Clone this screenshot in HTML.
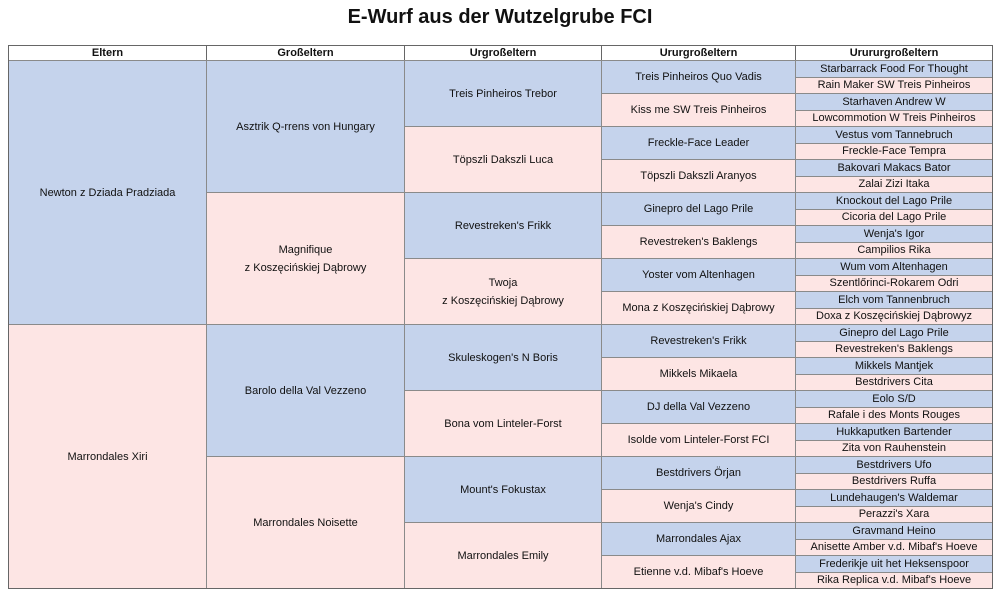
<!DOCTYPE html>
<html><head><meta charset="utf-8">
<style>
html,body{margin:0;padding:0;background:#fff;}
body{width:1000px;height:595px;position:relative;overflow:hidden;font-family:"Liberation Sans",Arial,sans-serif;color:#111;}
h1{position:absolute;left:0;top:6px;width:1000px;margin:0;text-align:center;font-size:20px;font-weight:bold;}
.c{position:absolute;box-sizing:border-box;border:1px solid #8a8a8a;display:flex;align-items:center;justify-content:center;text-align:center;font-size:11px;line-height:18px;}
.h{font-weight:bold;background:#fff;top:45px;height:16px;border-color:#666;}
.b{background:#c5d3ec;}
.p{background:#fde5e4;}
.o{position:absolute;left:8px;top:45px;width:985px;height:544px;border:1px solid #666;box-sizing:border-box;pointer-events:none;}
</style></head><body>
<h1>E-Wurf aus der Wutzelgrube FCI</h1>

<div class="c h" style="left:8px;width:199px">Eltern</div>
<div class="c h" style="left:206px;width:199px">Großeltern</div>
<div class="c h" style="left:404px;width:198px">Urgroßeltern</div>
<div class="c h" style="left:601px;width:195px">Ururgroßeltern</div>
<div class="c h" style="left:795px;width:198px">Urururgroßeltern</div>

<div class="c b" style="left:8px;width:199px;top:60px;height:265px">Newton z Dziada Pradziada</div>
<div class="c p" style="left:8px;width:199px;top:324px;height:265px">Marrondales Xiri</div>

<div class="c b" style="left:206px;width:199px;top:60px;height:133px">Asztrik Q-rrens von Hungary</div>
<div class="c p" style="left:206px;width:199px;top:192px;height:133px">Magnifique<br>z Koszęcińskiej Dąbrowy</div>
<div class="c b" style="left:206px;width:199px;top:324px;height:133px">Barolo della Val Vezzeno</div>
<div class="c p" style="left:206px;width:199px;top:456px;height:133px">Marrondales Noisette</div>

<div class="c b" style="left:404px;width:198px;top:60px;height:67px">Treis Pinheiros Trebor</div>
<div class="c p" style="left:404px;width:198px;top:126px;height:67px">Töpszli Dakszli Luca</div>
<div class="c b" style="left:404px;width:198px;top:192px;height:67px">Revestreken's Frikk</div>
<div class="c p" style="left:404px;width:198px;top:258px;height:67px">Twoja<br>z Koszęcińskiej Dąbrowy</div>
<div class="c b" style="left:404px;width:198px;top:324px;height:67px">Skuleskogen's N Boris</div>
<div class="c p" style="left:404px;width:198px;top:390px;height:67px">Bona vom Linteler-Forst</div>
<div class="c b" style="left:404px;width:198px;top:456px;height:67px">Mount's Fokustax</div>
<div class="c p" style="left:404px;width:198px;top:522px;height:67px">Marrondales Emily</div>

<div class="c b" style="left:601px;width:195px;top:60px;height:34px">Treis Pinheiros Quo Vadis</div>
<div class="c p" style="left:601px;width:195px;top:93px;height:34px">Kiss me SW Treis Pinheiros</div>
<div class="c b" style="left:601px;width:195px;top:126px;height:34px">Freckle-Face Leader</div>
<div class="c p" style="left:601px;width:195px;top:159px;height:34px">Töpszli Dakszli Aranyos</div>
<div class="c b" style="left:601px;width:195px;top:192px;height:34px">Ginepro del Lago Prile</div>
<div class="c p" style="left:601px;width:195px;top:225px;height:34px">Revestreken's Baklengs</div>
<div class="c b" style="left:601px;width:195px;top:258px;height:34px">Yoster vom Altenhagen</div>
<div class="c p" style="left:601px;width:195px;top:291px;height:34px">Mona z Koszęcińskiej Dąbrowy</div>
<div class="c b" style="left:601px;width:195px;top:324px;height:34px">Revestreken's Frikk</div>
<div class="c p" style="left:601px;width:195px;top:357px;height:34px">Mikkels Mikaela</div>
<div class="c b" style="left:601px;width:195px;top:390px;height:34px">DJ della Val Vezzeno</div>
<div class="c p" style="left:601px;width:195px;top:423px;height:34px">Isolde vom Linteler-Forst FCI</div>
<div class="c b" style="left:601px;width:195px;top:456px;height:34px">Bestdrivers Örjan</div>
<div class="c p" style="left:601px;width:195px;top:489px;height:34px">Wenja's Cindy</div>
<div class="c b" style="left:601px;width:195px;top:522px;height:34px">Marrondales Ajax</div>
<div class="c p" style="left:601px;width:195px;top:555px;height:34px">Etienne v.d. Mibaf's Hoeve</div>

<div class="c b" style="left:795px;width:198px;top:60px;height:17.5px">Starbarrack Food For Thought</div>
<div class="c p" style="left:795px;width:198px;top:76.5px;height:17.5px">Rain Maker SW Treis Pinheiros</div>
<div class="c b" style="left:795px;width:198px;top:93px;height:17.5px">Starhaven Andrew W</div>
<div class="c p" style="left:795px;width:198px;top:109.5px;height:17.5px">Lowcommotion W Treis Pinheiros</div>
<div class="c b" style="left:795px;width:198px;top:126px;height:17.5px">Vestus vom Tannebruch</div>
<div class="c p" style="left:795px;width:198px;top:142.5px;height:17.5px">Freckle-Face Tempra</div>
<div class="c b" style="left:795px;width:198px;top:159px;height:17.5px">Bakovari Makacs Bator</div>
<div class="c p" style="left:795px;width:198px;top:175.5px;height:17.5px">Zalai Zizi Itaka</div>
<div class="c b" style="left:795px;width:198px;top:192px;height:17.5px">Knockout del Lago Prile</div>
<div class="c p" style="left:795px;width:198px;top:208.5px;height:17.5px">Cicoria del Lago Prile</div>
<div class="c b" style="left:795px;width:198px;top:225px;height:17.5px">Wenja's Igor</div>
<div class="c p" style="left:795px;width:198px;top:241.5px;height:17.5px">Campilios Rika</div>
<div class="c b" style="left:795px;width:198px;top:258px;height:17.5px">Wum vom Altenhagen</div>
<div class="c p" style="left:795px;width:198px;top:274.5px;height:17.5px">Szentlőrinci-Rokarem Odri</div>
<div class="c b" style="left:795px;width:198px;top:291px;height:17.5px">Elch vom Tannenbruch</div>
<div class="c p" style="left:795px;width:198px;top:307.5px;height:17.5px">Doxa z Koszęcińskiej Dąbrowyz</div>
<div class="c b" style="left:795px;width:198px;top:324px;height:17.5px">Ginepro del Lago Prile</div>
<div class="c p" style="left:795px;width:198px;top:340.5px;height:17.5px">Revestreken's Baklengs</div>
<div class="c b" style="left:795px;width:198px;top:357px;height:17.5px">Mikkels Mantjek</div>
<div class="c p" style="left:795px;width:198px;top:373.5px;height:17.5px">Bestdrivers Cita</div>
<div class="c b" style="left:795px;width:198px;top:390px;height:17.5px">Eolo S/D</div>
<div class="c p" style="left:795px;width:198px;top:406.5px;height:17.5px">Rafale i des Monts Rouges</div>
<div class="c b" style="left:795px;width:198px;top:423px;height:17.5px">Hukkaputken Bartender</div>
<div class="c p" style="left:795px;width:198px;top:439.5px;height:17.5px">Zita von Rauhenstein</div>
<div class="c b" style="left:795px;width:198px;top:456px;height:17.5px">Bestdrivers Ufo</div>
<div class="c p" style="left:795px;width:198px;top:472.5px;height:17.5px">Bestdrivers Ruffa</div>
<div class="c b" style="left:795px;width:198px;top:489px;height:17.5px">Lundehaugen's Waldemar</div>
<div class="c p" style="left:795px;width:198px;top:505.5px;height:17.5px">Perazzi's Xara</div>
<div class="c b" style="left:795px;width:198px;top:522px;height:17.5px">Gravmand Heino</div>
<div class="c p" style="left:795px;width:198px;top:538.5px;height:17.5px">Anisette Amber v.d. Mibaf's Hoeve</div>
<div class="c b" style="left:795px;width:198px;top:555px;height:17.5px">Frederikje uit het Heksenspoor</div>
<div class="c p" style="left:795px;width:198px;top:571.5px;height:17.5px">Rika Replica v.d. Mibaf's Hoeve</div>

<div class="o"></div>
</body></html>
